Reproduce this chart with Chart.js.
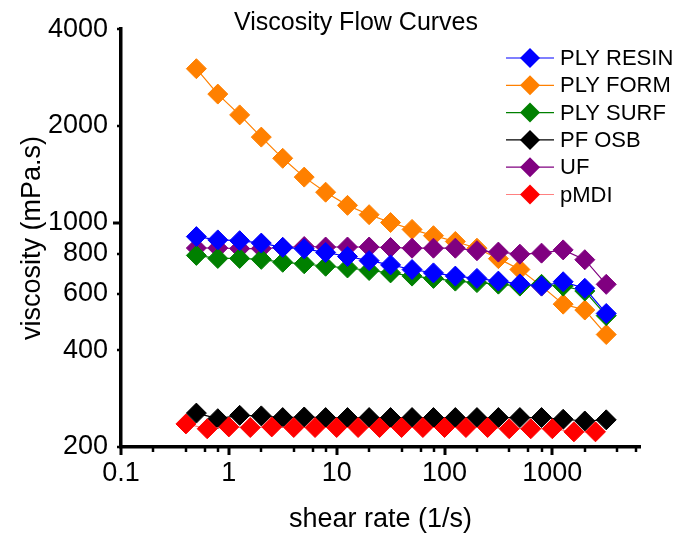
<!DOCTYPE html>
<html>
<head>
<meta charset="utf-8">
<script src="https://cdn.jsdelivr.net/npm/chart.js@4/dist/chart.umd.min.js"></script>
<style>
  html, body { margin: 0; padding: 0; background: #ffffff; }
  #wrap { width: 676px; height: 538px; }
</style>
</head>
<body>
<div id="wrap"><canvas id="c" width="676" height="538"></canvas></div>
<script>
// Shear rates (1/s) of the measurement points
const shearRate    = [0.5, 0.79, 1.26, 2.0, 3.16, 5.0, 7.9, 12.6, 20, 31.6, 50, 79, 126, 200, 316, 500, 794, 1260, 2000, 3160];
const shearRateMDI = [0.4, 0.63, 1.0, 1.58, 2.5, 4.0, 6.3, 10, 15.8, 25, 40, 63, 100, 158, 251, 398, 631, 1000, 1585, 2512];

// Viscosity (mPa.s) of each resin
const plyResin = [904, 883, 878, 863, 837, 828, 807, 784, 761, 738, 714, 697, 681, 670, 657, 644, 634, 654, 624, 521];
const plyForm  = [3013, 2512, 2164, 1845, 1585, 1385, 1243, 1131, 1058, 1000, 952, 910, 873, 832, 772, 714, 634, 557, 534, 448];
const plySurf  = [790, 773, 773, 768, 752, 744, 731, 722, 709, 697, 681, 670, 657, 650, 643, 634, 642, 634, 612, 513];
const pfOsb    = [255, 245, 251, 250, 247, 248, 247, 247, 247, 247, 247, 247, 247, 247, 247, 247, 247, 244, 241, 243];
const ufResin  = [833, 833, 830, 830, 836, 842, 839, 839, 839, 836, 832, 832, 832, 817, 809, 797, 803, 822, 766, 642];
const pMdi     = [236, 228, 231, 230, 231, 230, 230, 230, 230, 230, 230, 230, 230, 230, 230, 228, 228, 228, 223, 223];

const seriesNames = ['PLY RESIN', 'PLY FORM', 'PLY SURF', 'PF OSB', 'UF', 'pMDI'];

// Labelled ticks
const xTickValues = [0.1, 1, 10, 100, 1000];
const yTickValues = [200, 400, 600, 800, 1000, 2000, 4000];

const FONT = "'Liberation Sans', Arial, sans-serif";

function pts(xs, ys) { return xs.map((x, i) => ({ x: x, y: ys[i] })); }

function series(label, xs, ys, color, lineColor, order) {
  return {
    label: label,
    data: pts(xs, ys),
    showLine: true,
    borderColor: lineColor,
    borderWidth: 1.2,
    backgroundColor: color,
    pointBackgroundColor: color,
    pointBorderColor: color,
    pointBorderWidth: 1,
    pointStyle: 'rectRot',
    pointRadius: 10,
    pointHoverRadius: 10,
    order: order
  };
}

const datasets = [
  series(seriesNames[0], shearRate, plyResin, '#0000ff', '#0000ff', 0),
  series(seriesNames[1], shearRate, plyForm,  '#ff8000', '#ff8000', 3),
  series(seriesNames[2], shearRate, plySurf,  '#008000', '#008000', 1),
  series(seriesNames[3], shearRate, pfOsb,    '#000000', '#000000', 5),
  series(seriesNames[4], shearRate, ufResin,  '#800080', '#800080', 2),
  series(seriesNames[5], shearRateMDI, pMdi,  '#ff0000', '#ff8080', 4)
];

// Tick marks: long at decades, short at the minor positions
const tickMarks = {
  id: 'tickMarks',
  afterDraw(chart) {
    const ctx = chart.ctx;
    const xs = chart.scales.x, ys = chart.scales.y;
    const bottom = chart.chartArea.bottom, left = chart.chartArea.left;
    ctx.save();
    ctx.strokeStyle = '#000';
    for (let d = 0.1; d <= xs.max; d *= 10) {
      ctx.lineWidth = 3;
      const px = Math.round(xs.getPixelForValue(d));
      ctx.beginPath(); ctx.moveTo(px, bottom); ctx.lineTo(px, bottom + 8); ctx.stroke();
      [2, 4, 6, 8].forEach(m => {
        const v = d * m;
        if (v >= xs.max) return;
        const mx = Math.round(xs.getPixelForValue(v));
        ctx.lineWidth = 2.5;
        ctx.beginPath(); ctx.moveTo(mx, bottom); ctx.lineTo(mx, bottom + 5); ctx.stroke();
      });
    }
    yTickValues.forEach(v => {
      const py = Math.round(ys.getPixelForValue(v));
      const major = (v === 1000);
      ctx.lineWidth = major ? 3 : 2.5;
      ctx.beginPath(); ctx.moveTo(left, py); ctx.lineTo(left - (major ? 8 : 4), py); ctx.stroke();
    });
    ctx.restore();
  }
};

// Title and legend
const annotations = {
  id: 'annotations',
  afterDraw(chart) {
    const ctx = chart.ctx;
    ctx.save();
    ctx.fillStyle = '#000';
    ctx.font = '25px ' + FONT;
    ctx.textAlign = 'center';
    ctx.textBaseline = 'alphabetic';
    ctx.fillText('Viscosity Flow Curves', 356, 30);

    const rowY0 = 58, rowGap = 27.3;
    ctx.font = '22px ' + FONT;
    ctx.textAlign = 'left';
    ctx.textBaseline = 'middle';
    chart.data.datasets.forEach((ds, i) => {
      const y = rowY0 + i * rowGap;
      ctx.strokeStyle = ds.borderColor;
      ctx.lineWidth = 1.2;
      ctx.beginPath(); ctx.moveTo(506, y); ctx.lineTo(554, y); ctx.stroke();
      ctx.fillStyle = ds.pointBackgroundColor;
      ctx.beginPath();
      ctx.moveTo(530 - 10, y); ctx.lineTo(530, y - 10); ctx.lineTo(530 + 10, y); ctx.lineTo(530, y + 10);
      ctx.closePath(); ctx.fill();
      ctx.fillStyle = '#000';
      ctx.fillText(ds.label, 560, y + 1);
    });
    ctx.restore();
  }
};

new Chart(document.getElementById('c'), {
  type: 'scatter',
  data: { datasets: datasets },
  options: {
    responsive: false,
    animation: false,
    devicePixelRatio: 1,
    layout: { padding: { top: 25, right: 36, left: 0, bottom: 0 } },
    plugins: {
      legend: { display: false },
      title: { display: false },
      tooltip: { enabled: false }
    },
    scales: {
      x: {
        type: 'logarithmic',
        position: 'bottom',
        min: 0.1,
        max: 6500,
        grid: { display: false, drawTicks: false },
        border: { display: true, color: '#000', width: 3.5 },
        afterBuildTicks: s => { s.ticks = xTickValues.map(v => ({ value: v })); },
        afterFit: s => { s.height = 91; },
        ticks: {
          color: '#000',
          font: { family: FONT, size: 27 },
          padding: 10,
          autoSkip: false,
          maxRotation: 0,
          callback: v => String(v)
        },
        title: {
          display: true,
          text: 'shear rate (1/s)',
          color: '#000',
          font: { family: FONT, size: 27 },
          padding: { top: 0, bottom: 2 }
        }
      },
      y: {
        type: 'logarithmic',
        position: 'left',
        min: 200,
        max: 4000,
        grid: { display: false, drawTicks: false },
        border: { display: true, color: '#000', width: 3.5 },
        afterBuildTicks: s => { s.ticks = yTickValues.map(v => ({ value: v })); },
        afterFit: s => { s.width = 121; },
        ticks: {
          color: '#000',
          font: { family: FONT, size: 27 },
          padding: 13,
          autoSkip: false,
          callback: v => String(v)
        },
        title: {
          display: true,
          text: 'viscosity (mPa.s)',
          color: '#000',
          font: { family: FONT, size: 27 },
          padding: { top: 16, bottom: 0 }
        }
      }
    }
  },
  plugins: [tickMarks, annotations]
});
</script>
</body>
</html>
